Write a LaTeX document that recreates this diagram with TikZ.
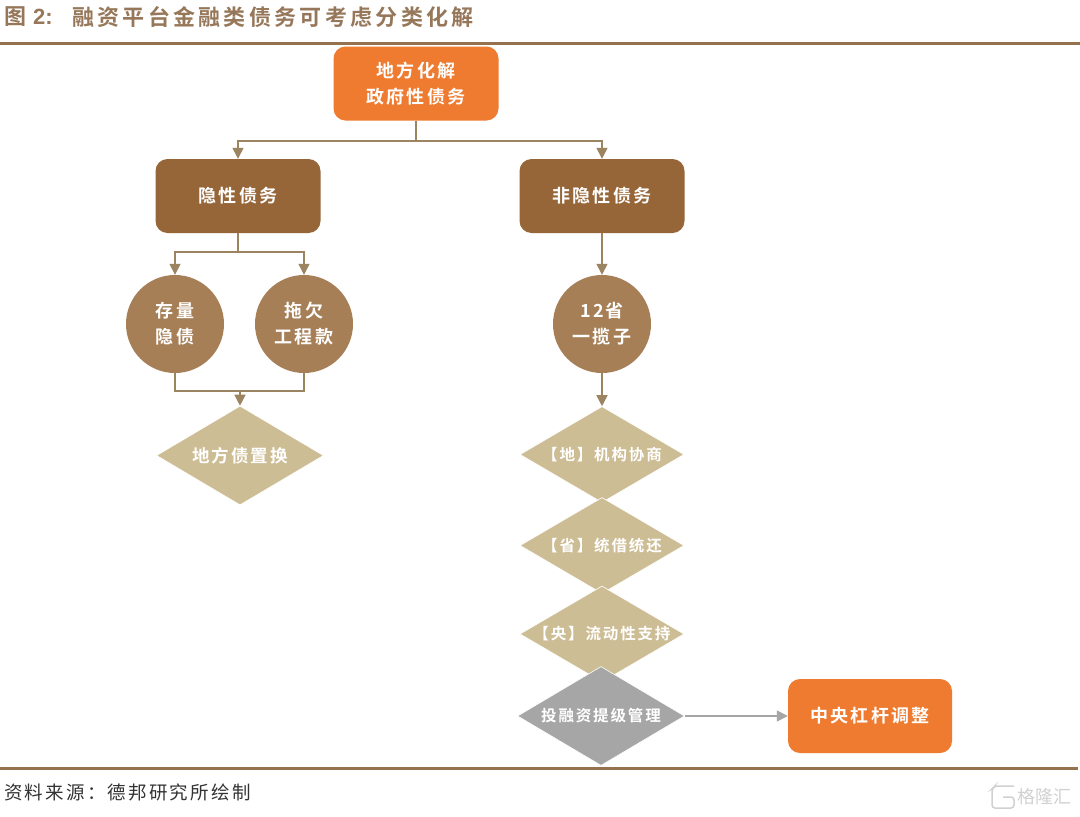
\documentclass[tikz,border=0pt]{standalone}
\usepackage{fontspec}
\setmainfont{Liberation Sans}
\newfontfamily\cjk{Noto Sans CJK SC}[BoldFont={* Bold}]
\newfontfamily\cjktitle{Noto Sans CJK SC}[LetterSpace=15,BoldFont={* Bold}]
\newfontfamily\cjkbody{Noto Sans CJK SC}[LetterSpace=12,BoldFont={* Bold}]
\usetikzlibrary{shapes.geometric,arrows.meta}
\definecolor{orangebox}{HTML}{EE7B2F}
\definecolor{brownbox}{HTML}{966639}
\definecolor{browncirc}{HTML}{A67F57}
\definecolor{tandia}{HTML}{CDBD95}
\definecolor{greydia}{HTML}{A6A6A6}
\definecolor{conn}{HTML}{9C8460}
\definecolor{rulec}{HTML}{94714F}
\definecolor{titlec}{HTML}{96775A}
\tikzset{
  rbox/.style={rectangle,rounded corners=12pt,minimum width=165pt,minimum height=74pt,inner sep=0pt,align=center,text=white,font=\cjkbody\fontsize{18}{26}\selectfont\bfseries},
  orangenode/.style={rbox,fill=orangebox},
  brownnode/.style={rbox,fill=brownbox},
  circnode/.style={circle,fill=browncirc,minimum size=98pt,inner sep=0pt,align=center,text=white,font=\cjkbody\fontsize{18}{26}\selectfont\bfseries},
  dia/.style={diamond,aspect=1.72,inner sep=0pt,minimum width=164pt,minimum height=96pt,draw=white,line width=0.6pt},
  tandiamond/.style={dia,fill=tandia},
  greydiamond/.style={dia,fill=greydia,minimum width=167pt,minimum height=99pt},
  dtext/.style={inner sep=0pt,text=white,font=\cjkbody\fontsize{15.5}{18}\selectfont\bfseries},
  link/.style={draw=conn,line width=1.4pt},
  arrowlink/.style={link,-{Triangle[length=11pt,width=11pt]}},
  greylink/.style={draw=greydia,line width=1.4pt,-{Triangle[length=11pt,width=11pt]}},
  rulebar/.style={draw=rulec,line width=3pt},
}
\begin{document}
\begin{tikzpicture}[x=1pt,y=-1pt]
\useasboundingbox[fill=white] (0,0) rectangle (1080,817);
% title and rules
\node[anchor=west,inner sep=0pt,text=titlec,font=\cjkbody\fontsize{22}{24}\selectfont\bfseries] (figno) at (4,17) {图};
\node[anchor=west,inner sep=0pt,text=titlec,font=\fontsize{22}{24}\selectfont\bfseries] (fignum) at (33,17) {2:};
\node[anchor=west,inner sep=0pt,text=titlec,font=\cjktitle\fontsize{22}{24}\selectfont\bfseries] (title) at (72,17) {融资平台金融类债务可考虑分类化解};
\draw[rulebar] (0,43) -- (1080,43);
\draw[rulebar] (0,768) -- (1078,768);
% nodes
\node[orangenode] (top) at (416,83.5) {地方化解\\政府性债务};
\node[brownnode] (hid) at (238,196) {隐性债务};
\node[brownnode] (nonhid) at (602,196) {非隐性债务};
\node[circnode] (c1) at (175,324) {存量\\隐债};
\node[circnode] (c2) at (304,324) {拖欠\\工程款};
\node[circnode] (c3) at (602,324) {12省\\一揽子};
\node[tandiamond,minimum width=167pt,minimum height=99pt,label={[dtext,font=\cjkbody\fontsize{17.5}{18}\selectfont\bfseries]center:地方债置换}] (d0) at (240,455.5) {};
\node[tandiamond,label={[dtext]center:【地】机构协商}] (d1) at (602,454.5) {};
\node[tandiamond,label={[dtext]center:【省】统借统还}] (d2) at (602,545.5) {};
\node[tandiamond,label={[dtext]center:【央】流动性支持}] (d3) at (602,634) {};
\node[greydiamond,label={[dtext]center:投融资提级管理}] (d4) at (601,716) {};
\node[orangenode,minimum width=164pt] (lev) at (870,716) {中央杠杆调整};
% junctions
\coordinate (j1) at (416,141);
\coordinate (j2) at (238,252);
\coordinate (j3) at (240,391);
% connectors
\draw[link] (top.south) -- (j1);
\draw[arrowlink] (j1) -| (hid.north);
\draw[arrowlink] (j1) -| (nonhid.north);
\draw[link] (hid.south) -- (j2);
\draw[arrowlink] (j2) -| (c1.north);
\draw[arrowlink] (j2) -| (c2.north);
\draw[link] (c1.south) |- (j3);
\draw[link] (c2.south) |- (j3);
\draw[arrowlink] (j3) -- (d0.north);
\draw[arrowlink] (nonhid.south) -- (c3.north);
\draw[arrowlink] (c3.south) -- (d1.north);
\draw[greylink] (d4.east) -- (lev.west);
% source
\node[anchor=west,inner sep=0pt,text=black!80,font=\cjkbody\fontsize{18.5}{20}\selectfont] (source) at (4,792) {资料来源：德邦研究所绘制};
% watermark
\node[anchor=east,inner sep=0pt,text=black!18,font=\cjk\fontsize{18}{19}\selectfont] (wm) at (1072,797) {格隆汇};
\draw[black!18,line width=1.5pt,rounded corners=3pt] (1014,786) -- (995,786) -- (992,789) -- (992,808) -- (1014,808) -- (1014,797) -- (1003,797);
\end{tikzpicture}
\end{document}
